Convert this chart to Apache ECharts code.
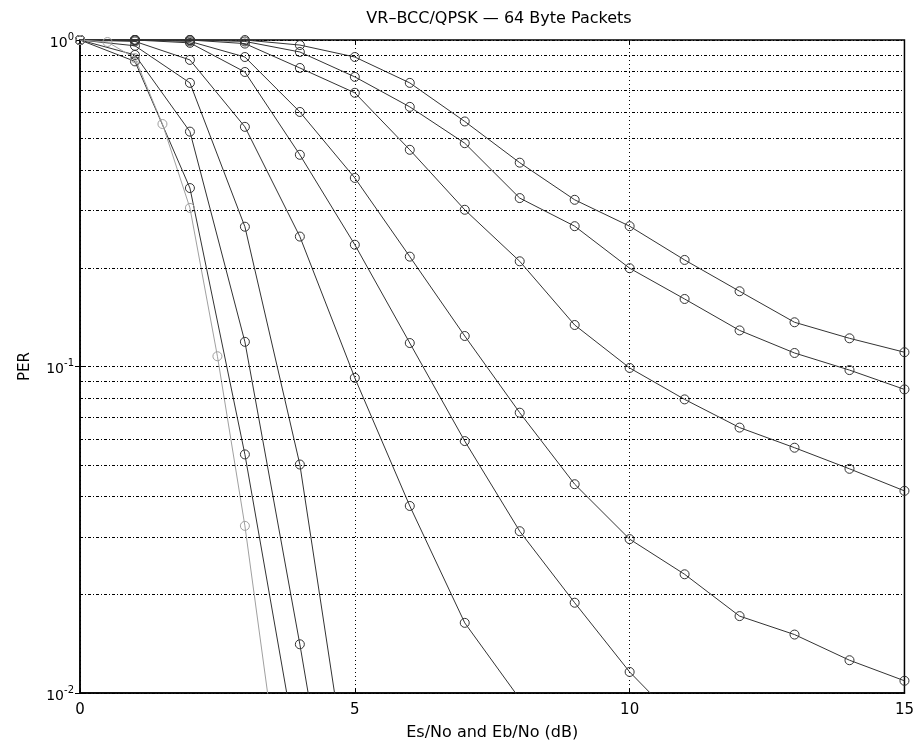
<!DOCTYPE html>
<html>
<head>
<meta charset="utf-8">
<script src="https://cdn.jsdelivr.net/npm/echarts@6/dist/echarts.min.js"></script>
<style>
html,body{margin:0;padding:0;background:#fff;overflow:hidden;}
#chart{width:917px;height:746px;}
</style>
</head>
<body>
<div id="chart"></div>
<script>
// ---- data ----
const titleText = 'VR\u2013BCC/QPSK \u2014 64 Byte Packets';
const xLabel = 'Es/No and Eb/No (dB)';
const yLabel = 'PER';

const xInt = [0,1,2,3,4,5,6,7,8,9,10,11,12,13,14,15];
const xHalf = [0,0.5,1,1.5,2,2.5,3,3.5];

const perGray = [1, 0.986, 0.88, 0.553, 0.306, 0.1075, 0.0325, 0.0078];
const perA = [1, 0.86, 0.352, 0.0538, 0.0059];
const perB = [1, 0.90, 0.524, 0.119, 0.0141, 0.00145];
const perC = [1, 0.96, 0.739, 0.268, 0.0501, 0.0039];
const perD = [1, 0.99, 0.869, 0.542, 0.25, 0.0923, 0.0374, 0.0164, 0.0096];
const perE = [1, 1, 0.98, 0.798, 0.445, 0.236, 0.118, 0.0591, 0.0313, 0.0189, 0.0116, 0.0078];
const perF = [1, 1, 0.99, 0.887, 0.602, 0.378, 0.217, 0.124, 0.0722, 0.0436, 0.0296, 0.0231, 0.0172, 0.0151, 0.0126, 0.0109];
const perG = [1, 1, 1, 0.975, 0.821, 0.689, 0.461, 0.302, 0.21, 0.134, 0.099, 0.0793, 0.065, 0.0564, 0.0486, 0.0416];
const perH = [1, 1, 1, 0.99, 0.919, 0.771, 0.624, 0.483, 0.328, 0.269, 0.2, 0.161, 0.129, 0.110, 0.0975, 0.0851];
const perI = [1, 1, 1, 1, 0.965, 0.887, 0.739, 0.563, 0.421, 0.324, 0.269, 0.212, 0.17, 0.1366, 0.122, 0.1106];

const minorGrid = [0.02,0.03,0.04,0.05,0.06,0.07,0.08,0.09,0.2,0.3,0.4,0.5,0.6,0.7,0.8,0.9];

// ---- build chart ----
const FONT = 'DejaVu Sans, Liberation Sans, Arial, sans-serif';
const DARK = '#333333';
const LIGHT = '#a0a0a0';
const GRIDDASH = [3,2,1,2];

function pairs(xs, ys){ return ys.map((y,i)=>[xs[i], y]); }

function mk(xs, ys, color, extra){
  const s = {
    type:'line',
    data: pairs(xs, ys),
    symbol:'circle',
    symbolSize:9,
    showSymbol:true,
    clip:true,
    lineStyle:{color:color, width:1},
    itemStyle:{color:'rgba(0,0,0,0)', borderColor:color, borderWidth:1},
    emphasis:{disabled:true},
    z:3
  };
  return Object.assign(s, extra||{});
}

const series = [
  mk(xInt, perI, DARK, {
    markLine:{
      silent:true, symbol:'none', animation:false,
      label:{show:false},
      lineStyle:{color:'#000', width:1, type:GRIDDASH},
      data: minorGrid.map(v=>({yAxis:v}))
    }
  }),
  mk(xInt, perH, DARK),
  mk(xInt, perG, DARK),
  mk(xInt, perF, DARK),
  mk(xInt, perE, DARK),
  mk(xInt, perD, DARK),
  mk(xInt, perC, DARK),
  mk(xInt, perB, DARK),
  mk(xInt, perA, DARK),
  mk(xHalf, perGray, LIGHT)
];

const chart = echarts.init(document.getElementById('chart'), null, {renderer:'canvas', width:917, height:746});
chart.setOption({
  animation:false,
  backgroundColor:'#fff',
  title:{
    text:titleText, left:494, top:6, textAlign:'center',
    textStyle:{fontFamily:FONT, fontSize:16, fontWeight:'normal', color:'#000'}
  },
  grid:{left:80, right:7, top:40, bottom:52, show:true, borderColor:'#000', borderWidth:1.5, backgroundColor:'transparent'},
  xAxis:[{
    type:'value', min:0, max:15, interval:5,
    name:xLabel, nameLocation:'middle', nameGap:32,
    nameTextStyle:{fontFamily:FONT, fontSize:16, color:'#000'},
    axisLine:{show:true, lineStyle:{color:'#000', width:1.5}},
    axisTick:{show:true, inside:true, length:5, lineStyle:{color:'#000'}},
    axisLabel:{fontFamily:FONT, fontSize:15, color:'#000', margin:10},
    splitLine:{show:true, lineStyle:{color:'#000', width:1, type:[1,3]}}
  },{
    type:'value', min:0, max:15, interval:5, position:'top',
    axisLine:{show:false},
    axisTick:{show:true, inside:true, length:5, lineStyle:{color:'#000'}},
    axisLabel:{show:false}, splitLine:{show:false}
  }],
  yAxis:[{
    type:'log', logBase:10, min:0.01, max:1,
    name:yLabel, nameLocation:'middle', nameGap:47, nameRotate:90,
    nameTextStyle:{fontFamily:FONT, fontSize:15, color:'#000'},
    axisLine:{show:true, lineStyle:{color:'#000', width:1.5}},
    axisTick:{show:true, inside:true, length:5, lineStyle:{color:'#000'}},
    axisLabel:{
      margin:6,
      formatter:function(v){ return '{b|10}{s|' + Math.round(Math.log10(v)) + '}'; },
      rich:{
        b:{fontFamily:FONT, fontSize:14, color:'#000', padding:[6,0,0,0]},
        s:{fontFamily:FONT, fontSize:10, color:'#000', padding:[0,0,6,0]}
      }
    },
    splitLine:{show:true, lineStyle:{color:'#000', width:1, type:GRIDDASH}}
  },{
    type:'log', logBase:10, min:0.01, max:1, position:'right',
    axisLine:{show:false},
    axisTick:{show:true, inside:true, length:5, lineStyle:{color:'#000'}},
    axisLabel:{show:false}, splitLine:{show:false}
  }],
  series: series
});
</script>
</body>
</html>
